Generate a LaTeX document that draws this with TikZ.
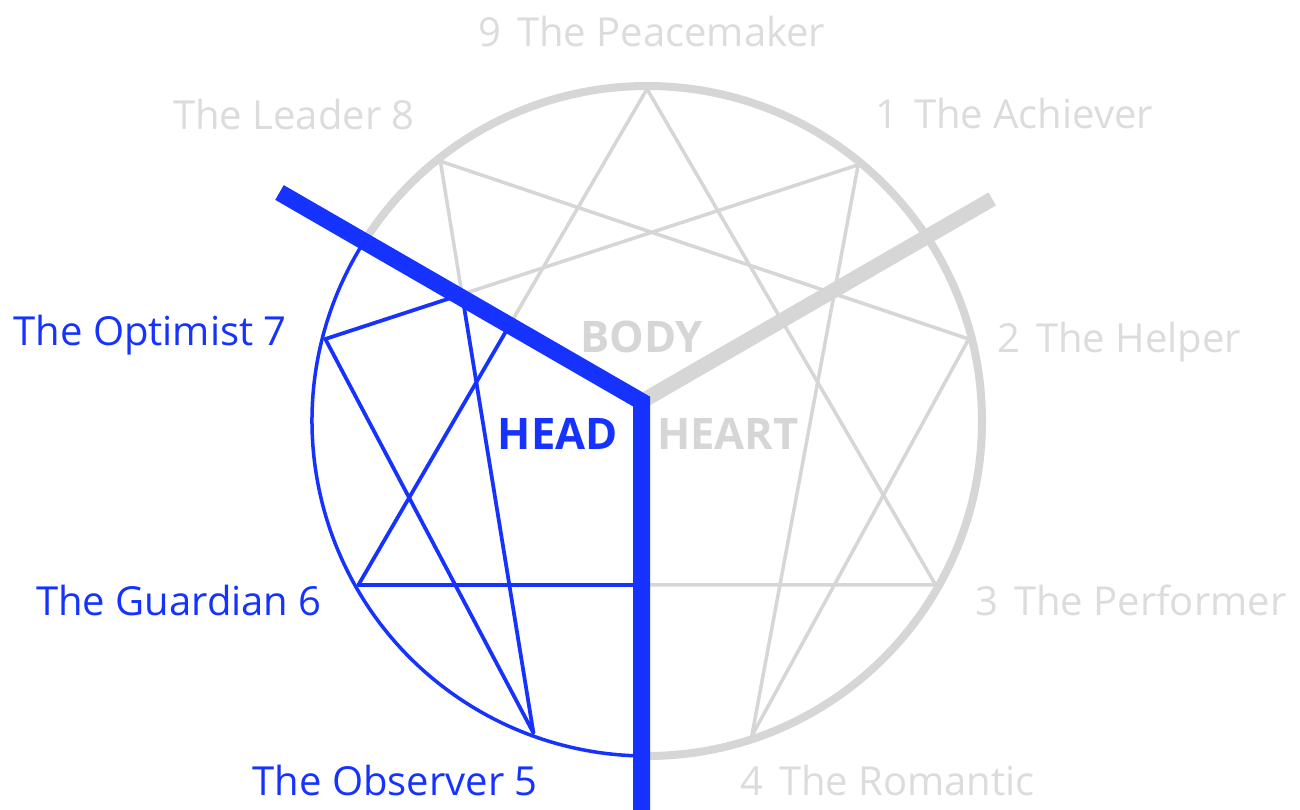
\documentclass[tikz,border=0pt]{standalone}
\usepackage{fontspec}
\setmainfont{Open Sans}
\usetikzlibrary{calc}
\definecolor{eblue}{RGB}{22,50,255}
\definecolor{egray}{RGB}{214,214,214}
\definecolor{etext}{RGB}{220,220,220}
\begin{document}
\begin{tikzpicture}[x=1pt,y=1pt,
  lbl/.style={inner sep=0pt, font=\fontsize{40}{44}\selectfont},
  graylbl/.style={lbl, text=etext},
  bluelbl/.style={lbl, text=eblue},
  centrelbl/.style={inner sep=0pt, font=\fontsize{43.5}{46}\selectfont\bfseries},
  starline/.style={line width=3.5pt, line cap=round, line join=round},
  ring/.style={line width=8pt},
  thinring/.style={line width=3.5pt},
  arm/.style={line width=17pt, line join=miter}]
\useasboundingbox (0,0) rectangle (1300,809);
\fill[white] (0,0) rectangle (1300,809);
% centre of the circle and the nine points
\coordinate (C) at (647,388);
\coordinate (p9) at ($(C)+(90:332)$);
\coordinate (p1) at ($(C)+(50.5:332)$);
\coordinate (p2) at ($(C)+(14.3:332)$);
\coordinate (p3) at ($(C)+(-29.6:332)$);
\coordinate (p4) at ($(C)+(-71.6:332)$);
\coordinate (p5) at ($(C)+(-110:332)$);
\coordinate (p6) at ($(C)+(-150.4:332)$);
\coordinate (p7) at ($(C)+(165.7:332)$);
\coordinate (p8) at ($(C)+(128.5:332)$);
% centre of the Y
\coordinate (O) at (641.5,407.5);
\coordinate (armR) at ($(O)+(30:405)$);
\coordinate (armL) at ($(O)+(150:418)$);
\coordinate (armD) at (641.5,-5);
% gray ring
\draw[ring, egray] ($(C)+(-90:335)$) arc[start angle=-90, end angle=147.6, radius=335];
% gray star
\draw[starline, egray] (p9) -- (p3) -- (p6) -- cycle;
\draw[starline, egray] (p1) -- (p4) -- (p2) -- (p8) -- (p5) -- (p7) -- cycle;
% blue part (HEAD)
\draw[thinring, eblue] ($(C)+(147.6:335)$) arc[start angle=147.6, end angle=270, radius=335];
\begin{scope}
  \clip (O) -- ($(O)+(150:1200)$) -- (-400,-100) -- (641.5,-100) -- cycle;
  \draw[starline, eblue, line width=3.7pt] (p9) -- (p3) -- (p6) -- cycle;
  \draw[starline, eblue, line width=3.7pt] (p1) -- (p4) -- (p2) -- (p8) -- (p5) -- (p7) -- cycle;
\end{scope}
% the Y
\draw[arm, egray, line width=15pt] (O) -- (armR);
\draw[arm, eblue] (armL) -- (O) -- (armD);
% labels
\node[graylbl, anchor=base west] (t9) at (478,762) {9\hspace{0.4em}The Peacemaker};
\node[graylbl, anchor=base east] (t8) at (415,679) {The Leader 8};
\node[graylbl, anchor=base west] (t1) at (875,680) {1\hspace{0.4em}The Achiever};
\node[bluelbl, anchor=base east] (t7) at (287,463) {The Optimist 7};
\node[graylbl, anchor=base west] (t2) at (997,456) {2\hspace{0.4em}The Helper};
\node[bluelbl, anchor=base east] (t6) at (322,194) {The Guardian 6};
\node[graylbl, anchor=base west] (t3) at (975,194) {3\hspace{0.4em}The Performer};
\node[bluelbl, anchor=base east] (t5) at (538,14) {The Observer 5};
\node[graylbl, anchor=base west] (t4) at (740,14) {4\hspace{0.4em}The Romantic};
\node[centrelbl, text=egray, anchor=base west] (body) at (580,456) {BODY};
\node[centrelbl, text=eblue, anchor=base east] (head) at (618,359) {HEAD};
\node[centrelbl, text=egray, anchor=base west] (heart) at (657,359) {HEART};
\end{tikzpicture}
\end{document}
